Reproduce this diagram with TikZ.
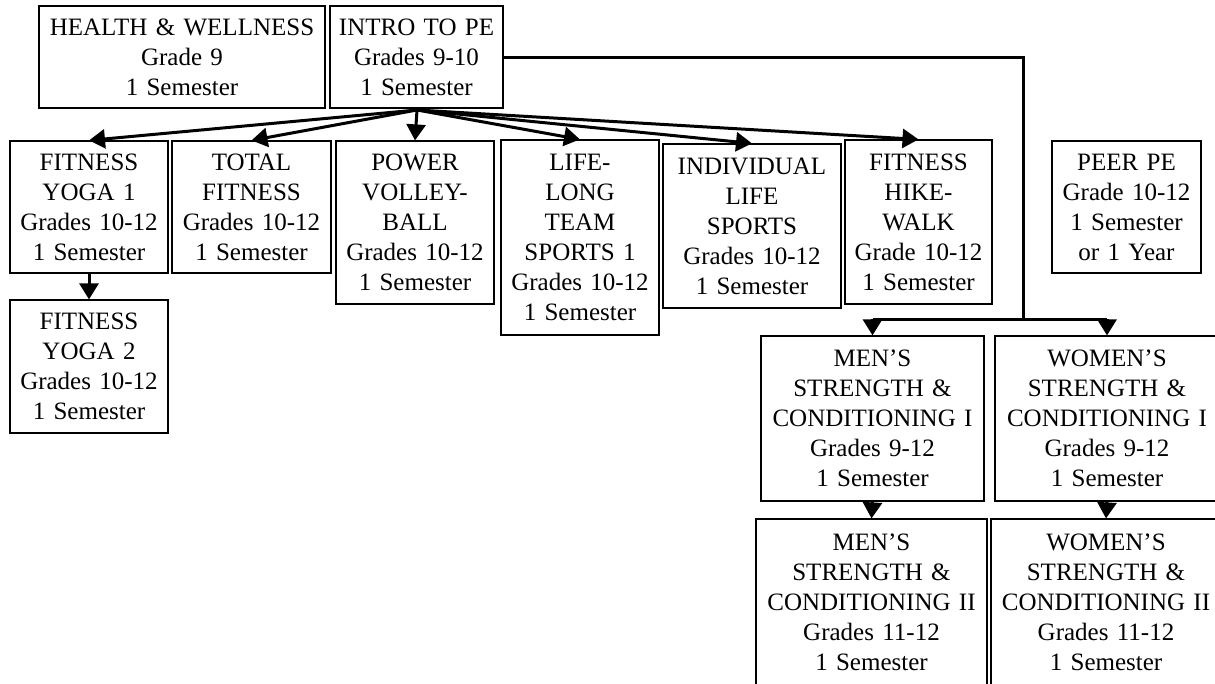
\documentclass[tikz,border=0pt]{standalone}
\usepackage{fontspec}
\setmainfont{Liberation Serif}
\usetikzlibrary{arrows.meta}
\tikzset{
  box/.style={draw, line width=1.2pt, inner sep=0pt, align=center, font=\fontsize{25}{30}\selectfont},
  conn/.style={line width=3pt},
  arr/.style={line width=3pt, -{Triangle[width=19pt,length=16pt]}, shorten <=0pt}
}
\begin{document}
\begin{tikzpicture}[x=1pt,y=-1pt]
\useasboundingbox (0,0) rectangle (1215,683);
\begin{scope}
\clip (0,0) rectangle (1215,683);
\node[box, text width=286pt, minimum height=102pt] (hw) at (182,57) {HEALTH \& WELLNESS\\Grade 9\\1 Semester};
\node[box, text width=173pt, minimum height=102pt] (intro) at (416.5,57) {INTRO TO PE\\Grades 9-10\\1 Semester};
\node[box, text width=158pt, minimum height=132pt] (yoga1) at (89,207) {FITNESS\\YOGA 1\\Grades 10-12\\1 Semester};
\node[box, text width=159pt, minimum height=132pt] (total) at (251.5,207) {TOTAL\\FITNESS\\Grades 10-12\\1 Semester};
\node[box, text width=158pt, minimum height=163pt] (power) at (415,222.5) {POWER\\VOLLEY-\\BALL\\Grades 10-12\\1 Semester};
\node[box, text width=158pt, minimum height=195pt] (life) at (580,237.5) {LIFE-\\LONG\\TEAM\\SPORTS 1\\Grades 10-12\\1 Semester};
\node[box, text width=178pt, minimum height=164pt] (indiv) at (752,226) {INDIVIDUAL\\LIFE\\SPORTS\\Grades 10-12\\1 Semester};
\node[box, text width=147pt, minimum height=164pt] (hike) at (918.5,222) {FITNESS\\HIKE-\\WALK\\Grade 10-12\\1 Semester};
\node[box, text width=149pt, minimum height=132pt] (peer) at (1126.5,207) {PEER PE\\Grade 10-12\\1 Semester\\or 1 Year};
\node[box, text width=158pt, minimum height=133pt] (yoga2) at (89,366.5) {FITNESS\\YOGA 2\\Grades 10-12\\1 Semester};
\node[box, text width=223pt, minimum height=165pt] (mens1) at (872.5,418.5) {MEN’S\\STRENGTH \&\\CONDITIONING I\\Grades 9-12\\1 Semester};
\node[box, text width=224pt, minimum height=165pt] (womens1) at (1107,418.5) {WOMEN’S\\STRENGTH \&\\CONDITIONING I\\Grades 9-12\\1 Semester};
\node[box, text width=231pt, minimum height=166pt] (mens2) at (871.5,602) {MEN’S\\STRENGTH \&\\CONDITIONING II\\Grades 11-12\\1 Semester};
\node[box, text width=230pt, minimum height=166pt] (womens2) at (1106,602) {WOMEN’S\\STRENGTH \&\\CONDITIONING II\\Grades 11-12\\1 Semester};

\coordinate (fan) at (417,110);
\coordinate (elb) at (1023,57);
\coordinate (split) at (1023,319);
\coordinate (ml) at (872.5,319);
\coordinate (wl) at (1107,319);

\draw[arr] (fan) -- (yoga1.north);
\draw[arr] (fan) -- (total.north);
\draw[arr] (fan) -- (power.north);
\draw[arr] (fan) -- (life.north);
\draw[arr] (fan) -- (indiv.north);
\draw[arr] (fan) -- (hike.north);
\draw[arr] (yoga1.south) -- (yoga2.north);

\draw[conn] (intro.east) -- (elb) -- (split);
\draw[conn] (ml) -- (wl);
\draw[arr] (ml) -- (mens1.north);
\draw[arr] (wl) -- (womens1.north);
\draw[arr] (mens1.south) -- (mens2.north);
\draw[arr] (womens1.south) -- (womens2.north);
\end{scope}
\end{tikzpicture}
\end{document}
